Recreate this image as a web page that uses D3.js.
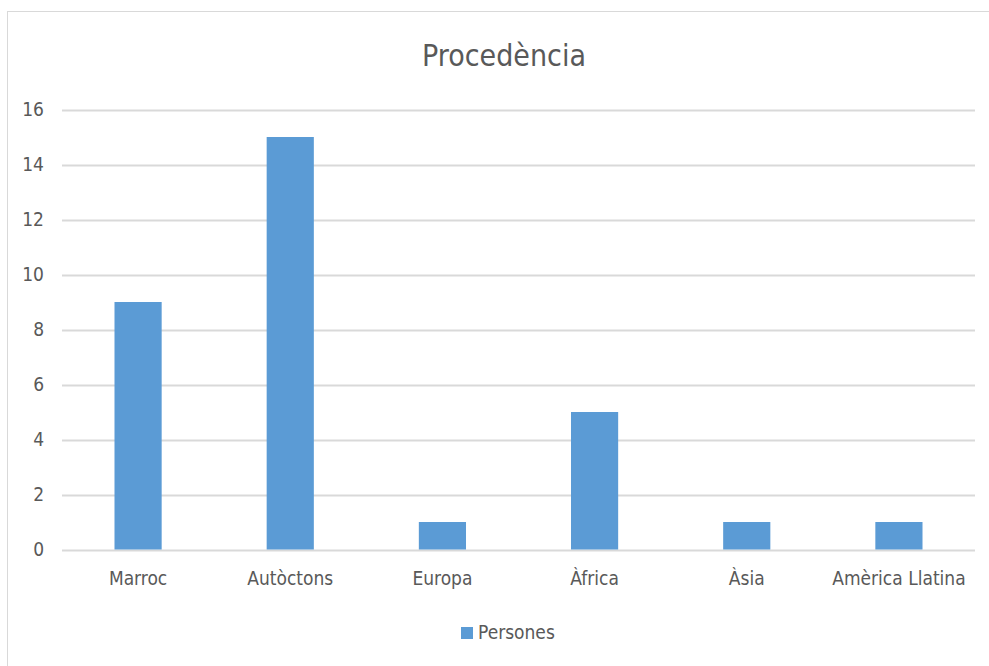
<!DOCTYPE html>
<html><head><meta charset="utf-8">
<script src="https://cdn.jsdelivr.net/npm/d3@7"></script>
<style>
html,body{margin:0;padding:0;background:#fff;}
svg text{font-family:"Liberation Sans Narrow","Arial Narrow","DejaVu Sans Condensed",sans-serif;fill:#595959;}
</style></head>
<body>
<script>
const categories = ["Marroc","Autòctons","Europa","Àfrica","Àsia","Amèrica Llatina"];
const values = [9,15,1,5,1,1];
const yTicks = [0,2,4,6,8,10,12,14,16];
const seriesName = "Persones";
const title = "Procedència";

(function(){
const W = 989, H = 666;
const svg = d3.select("body").append("svg").attr("width",W).attr("height",H);
svg.append("rect").attr("x",7.5).attr("y",11.5).attr("width",W+10).attr("height",H+10)
  .attr("fill","#fff").attr("stroke","#d9d9d9").attr("stroke-width",1);

const pl = 62, pr = 975, pt = 109.5, pb = 549.5;
const x = d3.scaleBand().domain(categories).range([pl,pr]).paddingInner(0.69).paddingOuter(0.345);
const y = d3.scaleLinear().domain([0,16]).range([pb,pt]);

svg.append("g").selectAll("line").data(yTicks).join("line")
  .attr("x1",pl).attr("x2",pr)
  .attr("y1",d=>Math.round(y(d))+0.5).attr("y2",d=>Math.round(y(d))+0.5)
  .attr("stroke","#d9d9d9").attr("stroke-width",2);

const ya = svg.append("g").attr("transform",`translate(44,0)`)
  .call(d3.axisLeft(y).tickValues(yTicks).tickSize(0).tickPadding(0));
ya.select(".domain").remove();
ya.selectAll("text").attr("font-size",19).attr("font-family",null).attr("fill","#595959");

svg.append("g").selectAll("rect").data(values).join("rect")
  .attr("x",(d,i)=>x(categories[i])).attr("width",x.bandwidth())
  .attr("y",d=>y(d)).attr("height",d=>y(0)-y(d))
  .attr("fill","#5b9bd5");

const xa = svg.append("g").attr("transform",`translate(0,${pb})`)
  .call(d3.axisBottom(x).tickSize(0).tickPadding(22));
xa.select(".domain").remove();
xa.selectAll("text").attr("font-size",19).attr("font-family",null).attr("fill","#595959");

svg.append("text").attr("x",504).attr("y",66).attr("text-anchor","middle")
  .attr("font-size",30).text(title);

svg.append("rect").attr("x",461).attr("y",627).attr("width",12).attr("height",12).attr("fill","#5b9bd5");
svg.append("text").attr("x",478).attr("y",639).attr("font-size",19).text(seriesName);
})();
</script>
</body></html>
